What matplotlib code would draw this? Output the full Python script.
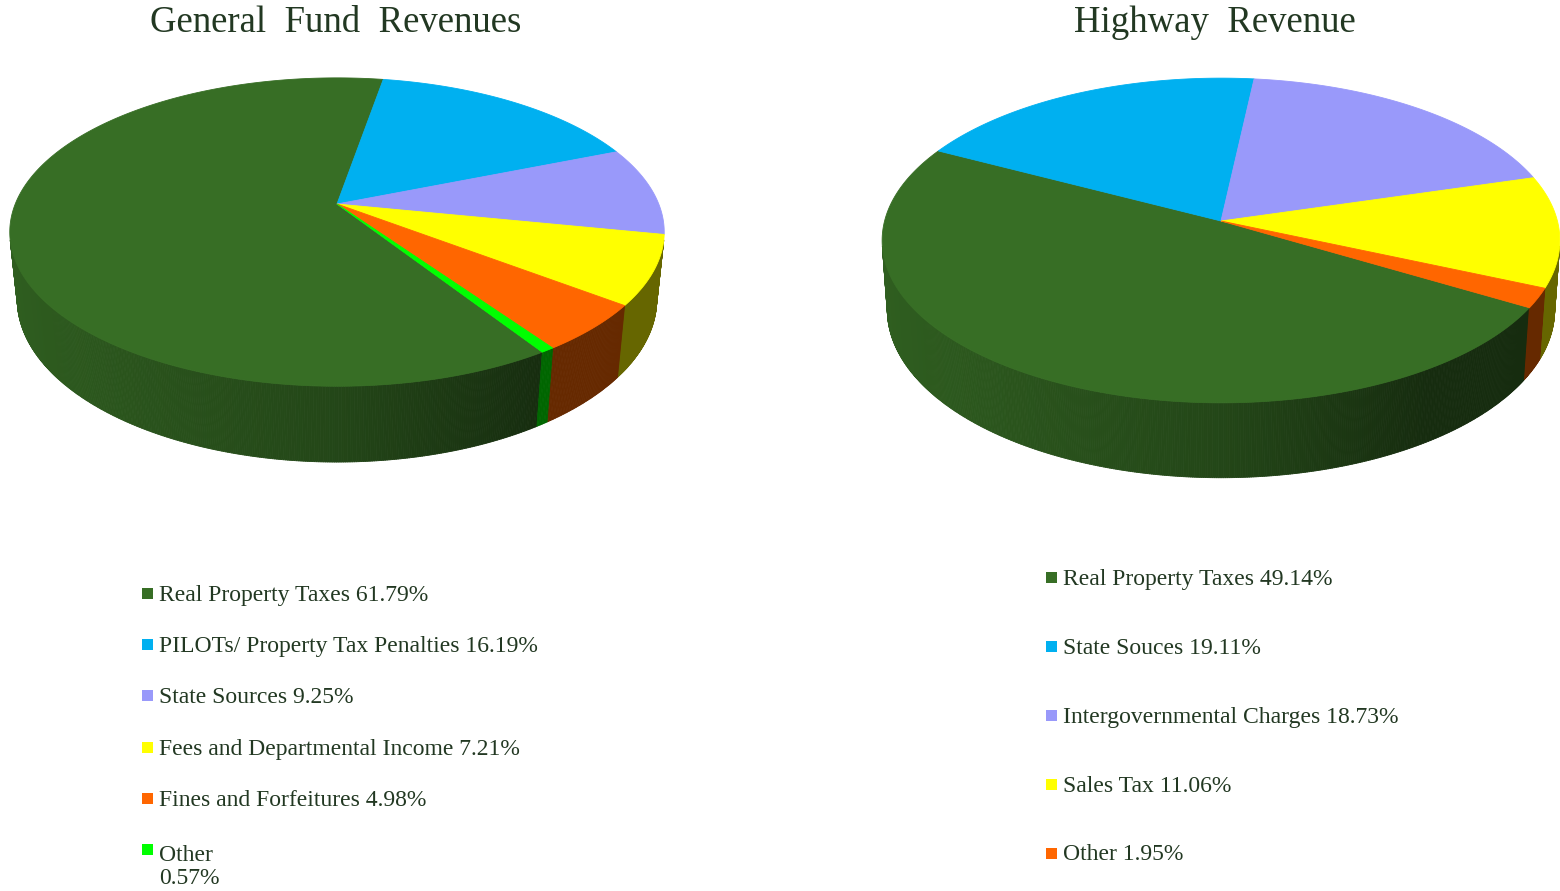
# import packages
import numpy as np
import matplotlib
matplotlib.use('Agg')
import matplotlib.pyplot as plt
from matplotlib.collections import PolyCollection
from matplotlib.colors import to_rgb
from matplotlib.patches import Polygon, Rectangle

# General Fund revenue shares (%)
gf_labels = ['Real Property Taxes', 'PILOTs/ Property Tax Penalties', 'State Sources',
             'Fees and Departmental Income', 'Fines and Forfeitures', 'Other']
gf_values = [61.79, 16.19, 9.25, 7.21, 4.98, 0.57]
gf_colors = ['#376E25', '#00B0F0', '#9999FA', '#FFFF00', '#FF6600', '#00FF00']

# Highway revenue shares (%)
hw_labels = ['Real Property Taxes', 'State Souces', 'Intergovernmental Charges',
             'Sales Tax', 'Other']
hw_values = [49.14, 19.11, 18.73, 11.06, 1.95]
hw_colors = ['#376E25', '#00B0F0', '#9999FA', '#FFFF00', '#FF6600']

text_color = '#223822'
plt.rcParams['font.family'] = ['Liberation Serif', 'DejaVu Serif']

# camera set-up of each 3D pie (screen pixels, tilt in degrees, first slice angle)
gf_geo = dict(cx=337, cy=204, scale=1567, dist=4.87, tilt=27.6, depth=0.238, start=147.3)
hw_geo = dict(cx=1221, cy=221, scale=2466, dist=7.33, tilt=28.4, depth=0.236, start=120.6)


def project(theta, z, g):
    # theta: degrees clockwise from 12 o'clock on a unit disc, z: height
    th = np.radians(theta)
    phi = np.radians(g['tilt'])
    x, y = np.sin(th), np.cos(th)
    v = y * np.sin(phi) + z * np.cos(phi)
    w = g['dist'] + y * np.cos(phi) - z * np.sin(phi)
    return g['cx'] + g['scale'] * x / w, g['cy'] - g['scale'] * v / w


def shade(theta):
    # darker towards the right-hand side of the wall
    u = np.sin(np.radians(theta))
    return np.interp(u, [-1, 0, 0.55, 1], [0.86, 0.64, 0.40, 0.40])


def draw_pie3d(ax, values, colors, g):
    vals = np.asarray(values, dtype=float)
    sweeps = vals / vals.sum() * 360
    starts = g['start'] + np.concatenate([[0], np.cumsum(sweeps)[:-1]])
    phi = np.radians(g['tilt'])
    lim = np.degrees(np.arccos(-1 / (g['dist'] * np.cos(phi))))

    # outer wall, only the part that faces the viewer
    quads, fcols = [], []
    for a0, sw, col in zip(starts, sweeps, colors):
        a1 = a0 + sw
        for k in range(-1, 3):
            lo = max(a0, lim + 360 * k)
            hi = min(a1, 360 - lim + 360 * k)
            if hi <= lo:
                continue
            th = np.linspace(lo, hi, max(2, int((hi - lo) * 3) + 1))
            xt, yt = project(th, 0, g)
            xb, yb = project(th, -g['depth'], g)
            base = np.array(to_rgb(col))
            for i in range(len(th) - 1):
                quads.append([(xt[i], yt[i]), (xt[i + 1], yt[i + 1]),
                              (xb[i + 1], yb[i + 1]), (xb[i], yb[i])])
                fcols.append(base * shade(0.5 * (th[i] + th[i + 1])))
    ax.add_collection(PolyCollection(quads, facecolors=fcols, edgecolors=fcols,
                                     linewidths=0.6, zorder=1))

    # top face slices, all meeting at the disc centre
    cx, cy = g['cx'], g['cy']
    for a0, sw, col in zip(starts, sweeps, colors):
        th = np.linspace(a0, a0 + sw, max(2, int(sw * 2) + 1))
        xs, ys = project(th, 0, g)
        pts = np.column_stack([np.r_[cx, xs], np.r_[cy, ys]])
        ax.add_patch(Polygon(pts, closed=True, facecolor=col, edgecolor=col,
                             linewidth=0.6, zorder=2))


def draw_legend(ax, labels, values, colors, x, y0, dy, wrap_last=False):
    line_gap = 26.5
    for i, (lab, val, col) in enumerate(zip(labels, values, colors)):
        y = y0 + i * dy
        ax.add_patch(Rectangle((x, y - 5.5), 11, 11, facecolor=col, edgecolor='none'))
        txt = f'{lab} {val:.2f}%'
        if wrap_last and i == len(labels) - 1:
            txt = txt.replace(' ', '\n')
        # baseline of the last line sits below the marker row
        ax.text(x + 17, y + 7.5 + txt.count('\n') * line_gap, txt, fontsize=17,
                color=text_color, ha='left', va='baseline', linespacing=1.12)


fig = plt.figure(figsize=(15.6, 8.91), dpi=100)
ax = fig.add_axes([0, 0, 1, 1])
ax.set_xlim(0, 1560)
ax.set_ylim(891, 0)
ax.axis('off')

draw_pie3d(ax, gf_values, gf_colors, gf_geo)
draw_pie3d(ax, hw_values, hw_colors, hw_geo)

ax.text(336, 32, 'General  Fund  Revenues', fontsize=26.5, color=text_color,
        ha='center', va='baseline')
ax.text(1215, 32, 'Highway  Revenue', fontsize=26.5, color=text_color,
        ha='center', va='baseline')

draw_legend(ax, gf_labels, gf_values, gf_colors, 142, 593.5, 51.2, wrap_last=True)
draw_legend(ax, hw_labels, hw_values, hw_colors, 1046, 577, 69)

fig.savefig('out.png', dpi=100, facecolor='white')
